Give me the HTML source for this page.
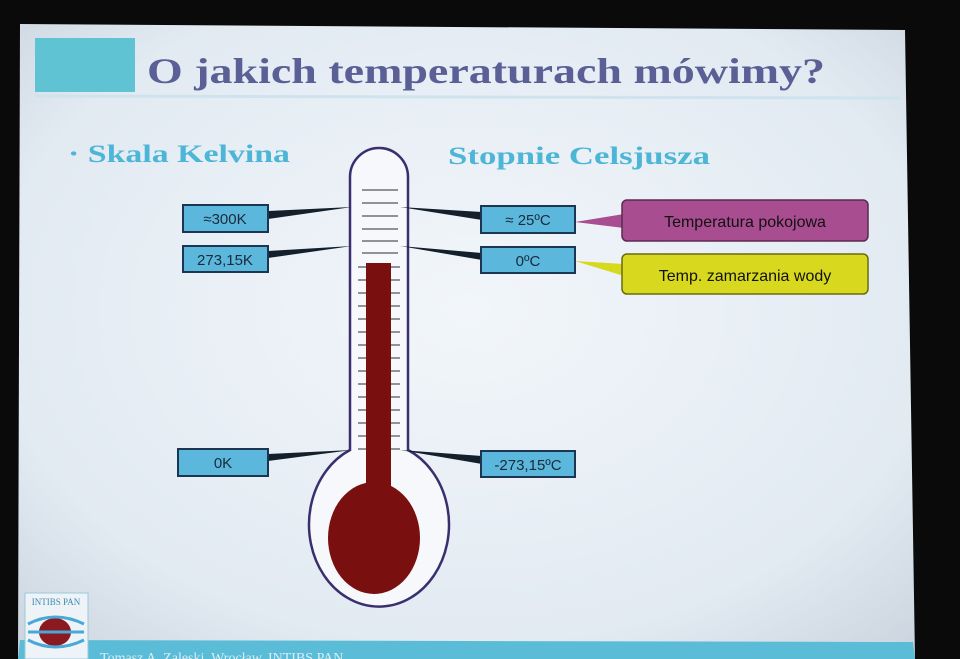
<!DOCTYPE html>
<html><head><meta charset="utf-8"><style>
body{margin:0;width:960px;height:659px;overflow:hidden;background:#0a0a0a;}
svg{display:block}
</style></head><body>
<svg width="960" height="659" viewBox="0 0 960 659" xmlns="http://www.w3.org/2000/svg">
<defs>
<radialGradient id="bg" cx="0.5" cy="0.45" r="0.75">
<stop offset="0" stop-color="#f2f6fa"/><stop offset="0.7" stop-color="#e2eaf2"/><stop offset="1" stop-color="#c9d3dd"/>
</radialGradient>
</defs>
<polygon points="20,24 905,30 915,659 18,659" fill="url(#bg)"/>
<rect x="35" y="38" width="100" height="54" fill="#5fc3d3"/>
<line x1="35" y1="96" x2="900" y2="98" stroke="#cfe3ef" stroke-width="3"/>
<text x="147" y="83" textLength="678" lengthAdjust="spacingAndGlyphs" font-family="Liberation Serif, serif" font-weight="bold" font-size="36" fill="#5a5f96">O jakich temperaturach mówimy?</text>
<text x="68" y="162" textLength="222" lengthAdjust="spacingAndGlyphs" font-family="Liberation Serif, serif" font-weight="bold" font-size="25" fill="#4db6d6">· Skala Kelvina</text>
<text x="448" y="164" textLength="262" lengthAdjust="spacingAndGlyphs" font-family="Liberation Serif, serif" font-weight="bold" font-size="25" fill="#4db6d6">Stopnie Celsjusza</text>
<!-- thermometer -->
<path d="M350,450 L350,177 A29,29 0 0 1 408,177 L408,450 A70,82 0 1 1 350,450 Z" fill="#f6f8fb" stroke="#3a2f6e" stroke-width="2.5"/>
<g stroke="#555" stroke-width="1.3">
<line x1="362" y1="190" x2="398" y2="190"/><line x1="362" y1="203" x2="398" y2="203"/><line x1="362" y1="216" x2="398" y2="216"/><line x1="362" y1="229" x2="398" y2="229"/><line x1="362" y1="241" x2="398" y2="241"/><line x1="362" y1="253" x2="398" y2="253"/>
<line x1="358" y1="267" x2="400" y2="267"/><line x1="358" y1="280" x2="400" y2="280"/><line x1="358" y1="293" x2="400" y2="293"/><line x1="358" y1="306" x2="400" y2="306"/><line x1="358" y1="319" x2="400" y2="319"/><line x1="358" y1="332" x2="400" y2="332"/><line x1="358" y1="345" x2="400" y2="345"/><line x1="358" y1="358" x2="400" y2="358"/><line x1="358" y1="371" x2="400" y2="371"/><line x1="358" y1="384" x2="400" y2="384"/><line x1="358" y1="397" x2="400" y2="397"/><line x1="358" y1="410" x2="400" y2="410"/><line x1="358" y1="423" x2="400" y2="423"/><line x1="358" y1="436" x2="400" y2="436"/><line x1="358" y1="449" x2="400" y2="449"/>
</g>
<rect x="366" y="263" width="25" height="240" fill="#7a0f10"/>
<ellipse cx="374" cy="538" rx="46" ry="56" fill="#7a0f10"/>
<!-- connectors -->
<g fill="#13202c">
<polygon points="268,211 268,219 352,207"/><polygon points="268,251 268,258 352,246"/><polygon points="268,454 268,461 352,450"/>
<polygon points="482,212 482,220 400,207"/><polygon points="482,253 482,260 400,246"/><polygon points="482,456 482,464 400,450"/>
</g>
<g fill="#5cb7dd" stroke="#1c3550" stroke-width="2">
<rect x="183" y="205" width="85" height="27"/><rect x="183" y="246" width="85" height="26"/><rect x="178" y="449" width="90" height="27"/>
<rect x="481" y="206" width="94" height="27"/><rect x="481" y="247" width="94" height="26"/><rect x="481" y="451" width="94" height="26"/>
</g>
<g font-family="Liberation Sans, sans-serif" font-size="15" fill="#1a2a3a" text-anchor="middle">
<text x="225" y="224">≈300K</text><text x="225" y="265">273,15K</text><text x="223" y="468">0K</text>
<text x="528" y="225">≈ 25ºC</text><text x="528" y="266">0ºC</text><text x="528" y="470">-273,15ºC</text>
</g>
<!-- callouts -->
<polygon points="575,222 624,214 624,228" fill="#a84d8f"/>
<rect x="622" y="200" width="246" height="41" rx="5" fill="#a84d8f" stroke="#5a2a50" stroke-width="1.5"/>
<text x="745" y="227" text-anchor="middle" font-family="Liberation Sans, sans-serif" font-size="16" fill="#111">Temperatura pokojowa</text>
<polygon points="575,261 624,264 624,276" fill="#d8d81e"/>
<rect x="622" y="254" width="246" height="40" rx="5" fill="#d8d81e" stroke="#6a6a10" stroke-width="1.5"/>
<text x="745" y="281" text-anchor="middle" font-family="Liberation Sans, sans-serif" font-size="16" fill="#111">Temp. zamarzania wody</text>
<!-- bottom band -->
<polygon points="20,640 913,642 915,659 18,659" fill="#5bbcd8"/>
<text x="100" y="662" font-family="Liberation Serif, serif" font-size="14" fill="#d8eef5">Tomasz A. Zaleski, Wrocław, INTIBS PAN</text>
<!-- logo -->
<rect x="25" y="593" width="63" height="66" fill="#eef3f8" stroke="#9ac8dc"/>
<text x="56" y="605" text-anchor="middle" font-family="Liberation Serif, serif" font-size="9" fill="#3a8ab0">INTIBS PAN</text>
<ellipse cx="55" cy="632" rx="16" ry="14" fill="#8a1a20"/>
<g stroke="#4aa8d8" stroke-width="3" fill="none"><path d="M28,624 Q55,610 84,624"/><path d="M28,640 Q55,654 84,640"/><line x1="28" y1="632" x2="84" y2="632"/></g>
</svg>
</body></html>
